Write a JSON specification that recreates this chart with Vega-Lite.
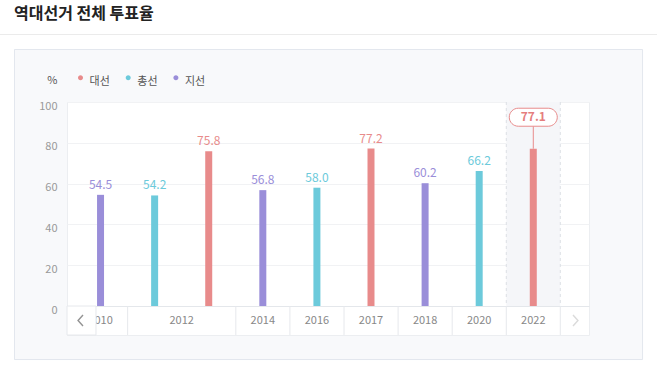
{
  "$schema": "https://vega.github.io/schema/vega-lite/v6.json",
  "autosize": "none",
  "width": 522,
  "height": 233,
  "padding": {"left": 67, "top": 102, "right": 68, "bottom": 35},
  "background": "#f8f9fb",
  "title": {
    "text": "역대선거 전체 투표율",
    "anchor": "start",
    "frame": "group",
    "orient": "top",
    "fontSize": 16,
    "fontWeight": "bold",
    "color": "#222222",
    "offset": 0,
    "dx": -53,
    "dy": 32
  },
  "config": {
    "font": "Noto Sans CJK KR",
    "view": {"fill": "#ffffff", "stroke": "#eceef1"}
  },
  "data": {
    "values": [
      {"idx": 0, "year": "2010", "type": "지선", "value": 54.5},
      {"idx": 1, "year": "2012", "type": "총선", "value": 54.2},
      {"idx": 2, "year": "2012", "type": "대선", "value": 75.8},
      {"idx": 3, "year": "2014", "type": "지선", "value": 56.8},
      {"idx": 4, "year": "2016", "type": "총선", "value": 58.0},
      {"idx": 5, "year": "2017", "type": "대선", "value": 77.2},
      {"idx": 6, "year": "2018", "type": "지선", "value": 60.2},
      {"idx": 7, "year": "2020", "type": "총선", "value": 66.2},
      {"idx": 8, "year": "2022", "type": "대선", "value": 77.1}
    ]
  },
  "layer": [
    {
      "data": {"values": [{}]},
      "mark": {"type": "rect", "fill": "#ffffff"},
      "encoding": {
        "x": {"datum": -2, "type": "quantitative", "scale": {"domain": [-0.62, 9.03], "nice": false, "zero": false, "padding": 0}, "axis": null},
        "x2": {"datum": 10.5},
        "y": {
          "datum": 155,
          "type": "quantitative",
          "scale": {"domain": [-14.2, 100], "nice": false, "zero": false},
          "axis": {
            "values": [0, 20, 40, 60, 80, 100],
            "grid": true,
            "gridColor": {"condition": {"test": "datum.value === 0", "value": "#e4e7eb"}, "value": "#f1f2f4"},
            "domain": false,
            "ticks": false,
            "labelColor": "#999999",
            "labelFontSize": 11,
            "labelPadding": 10,
            "labelOffset": 4,
            "title": "%",
            "titleAngle": 0,
            "titleX": -10,
            "titleY": -22,
            "titleAlign": "right",
            "titleBaseline": "middle",
            "titleFontWeight": "normal",
            "titleFontSize": 11,
            "titleColor": "#555555"
          }
        },
        "y2": {"datum": 125.98}
      }
    },
    {
      "data": {"values": [{}]},
      "mark": {"type": "rect", "fill": "#ffffff"},
      "encoding": {
        "x": {"datum": -2, "type": "quantitative", "scale": {"domain": [-0.62, 9.03], "nice": false, "zero": false, "padding": 0}, "axis": null},
        "x2": {"datum": -1.6},
        "y": {"datum": 155, "type": "quantitative", "scale": {"domain": [-14.2, 100], "nice": false, "zero": false}},
        "y2": {"datum": -40}
      }
    },
    {
      "data": {"values": [{}]},
      "mark": {"type": "rect", "fill": "#ffffff"},
      "encoding": {
        "x": {"datum": 10.029, "type": "quantitative", "scale": {"domain": [-0.62, 9.03], "nice": false, "zero": false, "padding": 0}, "axis": null},
        "x2": {"datum": 10.5},
        "y": {"datum": 155, "type": "quantitative", "scale": {"domain": [-14.2, 100], "nice": false, "zero": false}},
        "y2": {"datum": -40}
      }
    },
    {
      "data": {"values": [{}]},
      "mark": {"type": "rect", "fill": "#ffffff"},
      "encoding": {
        "x": {"datum": -2, "type": "quantitative", "scale": {"domain": [-0.62, 9.03], "nice": false, "zero": false, "padding": 0}, "axis": null},
        "x2": {"datum": 10.5},
        "y": {"datum": -26.47, "type": "quantitative", "scale": {"domain": [-14.2, 100], "nice": false, "zero": false}},
        "y2": {"datum": -40}
      }
    },
    {
      "data": {"values": [{}]},
      "mark": {"type": "rect", "fill": "transparent", "stroke": "#e3e7ee", "strokeWidth": 1},
      "encoding": {
        "x": {"datum": -1.5908, "type": "quantitative", "scale": {"domain": [-0.62, 9.03], "nice": false, "zero": false, "padding": 0}, "axis": null},
        "x2": {"datum": 10.02},
        "y": {"datum": 125.74, "type": "quantitative", "scale": {"domain": [-14.2, 100], "nice": false, "zero": false}},
        "y2": {"datum": -26.23}
      }
    },
    {
      "data": {"values": [{}]},
      "mark": {"type": "rule", "stroke": "#ebebeb", "strokeWidth": 1},
      "encoding": {
        "x": {"datum": -2, "type": "quantitative", "scale": {"domain": [-0.62, 9.03], "nice": false, "zero": false, "padding": 0}, "axis": null},
        "x2": {"datum": 10.5},
        "y": {"datum": 133.09, "type": "quantitative", "scale": {"domain": [-14.2, 100], "nice": false, "zero": false}}
      }
    },
    {
      "transform": [{"filter": "datum.year == '2022'"}],
      "mark": {"type": "bar", "fill": "#f5f6f9", "width": 54},
      "encoding": {
        "x": {"field": "idx", "type": "quantitative", "scale": {"domain": [-0.62, 9.03], "nice": false, "zero": false, "padding": 0}, "axis": null},
        "y": {"datum": 100, "type": "quantitative", "scale": {"domain": [-14.2, 100], "nice": false, "zero": false}},
        "y2": {"datum": 0}
      }
    },
    {
      "transform": [{"filter": "datum.year == '2022'"}],
      "mark": {"type": "rule", "stroke": "#dcdfe5", "strokeDash": [3, 3], "xOffset": -27},
      "encoding": {
        "x": {"field": "idx", "type": "quantitative", "scale": {"domain": [-0.62, 9.03], "nice": false, "zero": false, "padding": 0}, "axis": null},
        "y": {"datum": 100, "type": "quantitative", "scale": {"domain": [-14.2, 100], "nice": false, "zero": false}},
        "y2": {"datum": 0}
      }
    },
    {
      "transform": [{"filter": "datum.year == '2022'"}],
      "mark": {"type": "rule", "stroke": "#dcdfe5", "strokeDash": [3, 3], "xOffset": 27},
      "encoding": {
        "x": {"field": "idx", "type": "quantitative", "scale": {"domain": [-0.62, 9.03], "nice": false, "zero": false, "padding": 0}, "axis": null},
        "y": {"datum": 100, "type": "quantitative", "scale": {"domain": [-14.2, 100], "nice": false, "zero": false}},
        "y2": {"datum": 0}
      }
    },
    {
      "transform": [{"aggregate": [{"op": "min", "field": "idx", "as": "first"}], "groupby": ["year"]}],
      "mark": {"type": "rule", "stroke": "#e6e8ec", "xOffset": -27},
      "encoding": {
        "x": {"field": "first", "type": "quantitative", "scale": {"domain": [-0.62, 9.03], "nice": false, "zero": false, "padding": 0}, "axis": null},
        "y": {"datum": 0, "type": "quantitative", "scale": {"domain": [-14.2, 100], "nice": false, "zero": false}},
        "y2": {"datum": -14.2}
      }
    },
    {
      "transform": [{"filter": "datum.year == '2022'"}],
      "mark": {"type": "rule", "stroke": "#e6e8ec", "xOffset": 27},
      "encoding": {
        "x": {"field": "idx", "type": "quantitative", "scale": {"domain": [-0.62, 9.03], "nice": false, "zero": false, "padding": 0}, "axis": null},
        "y": {"datum": 0, "type": "quantitative", "scale": {"domain": [-14.2, 100], "nice": false, "zero": false}},
        "y2": {"datum": -14.2}
      }
    },
    {
      "transform": [{"aggregate": [{"op": "mean", "field": "idx", "as": "mid"}], "groupby": ["year"]}],
      "mark": {"type": "text", "fontSize": 11, "fill": "#888888", "baseline": "middle", "align": "center"},
      "encoding": {
        "x": {"field": "mid", "type": "quantitative", "scale": {"domain": [-0.62, 9.03], "nice": false, "zero": false, "padding": 0}, "axis": null},
        "y": {"datum": -7.1, "type": "quantitative", "scale": {"domain": [-14.2, 100], "nice": false, "zero": false}},
        "text": {"field": "year", "type": "nominal"}
      }
    },
    {
      "data": {"values": [{}]},
      "mark": {"type": "rect", "fill": "#ffffff", "stroke": "#e6e8ec", "strokeWidth": 1},
      "encoding": {
        "x": {"datum": -0.62, "type": "quantitative", "scale": {"domain": [-0.62, 9.03], "nice": false, "zero": false, "padding": 0}, "axis": null},
        "x2": {"datum": -0.084},
        "y": {"datum": 0, "type": "quantitative", "scale": {"domain": [-14.2, 100], "nice": false, "zero": false}},
        "y2": {"datum": -14.2}
      }
    },
    {
      "data": {"values": [{}]},
      "mark": {"type": "point", "shape": "M0.45,-1L-0.45,0L0.45,1", "filled": false, "stroke": "#666666", "strokeWidth": 1.4, "size": 121},
      "encoding": {
        "x": {"datum": -0.37, "type": "quantitative", "scale": {"domain": [-0.62, 9.03], "nice": false, "zero": false, "padding": 0}, "axis": null},
        "y": {"datum": -7.1, "type": "quantitative", "scale": {"domain": [-14.2, 100], "nice": false, "zero": false}}
      }
    },
    {
      "data": {"values": [{}]},
      "mark": {"type": "point", "shape": "M-0.45,-1L0.45,0L-0.45,1", "filled": false, "stroke": "#cccccc", "strokeWidth": 1.4, "size": 121},
      "encoding": {
        "x": {"datum": 8.78, "type": "quantitative", "scale": {"domain": [-0.62, 9.03], "nice": false, "zero": false, "padding": 0}, "axis": null},
        "y": {"datum": -7.1, "type": "quantitative", "scale": {"domain": [-14.2, 100], "nice": false, "zero": false}}
      }
    },
    {
      "mark": {"type": "bar", "width": 7},
      "encoding": {
        "x": {"field": "idx", "type": "quantitative", "scale": {"domain": [-0.62, 9.03], "nice": false, "zero": false, "padding": 0}, "axis": null},
        "y": {"field": "value", "type": "quantitative", "scale": {"domain": [-14.2, 100], "nice": false, "zero": false}},
        "color": {
          "field": "type",
          "type": "nominal",
          "scale": {"domain": ["대선", "총선", "지선"], "range": ["#e88b8b", "#6ccadb", "#9a8ed9"]},
          "legend": {
            "orient": "none",
            "legendX": 8,
            "legendY": -26,
            "direction": "horizontal",
            "title": null,
            "symbolType": "M0,-1.3A0.5,0.5,0,1,1,0,-0.3A0.5,0.5,0,1,1,0,-1.3Z",
            "symbolSize": 100,
            "symbolStrokeWidth": 0,
            "labelFontSize": 11,
            "labelColor": "#555555",
            "labelOffset": 3.6,
            "columnPadding": 12.7
          }
        }
      }
    },
    {
      "transform": [{"filter": "datum.year != '2022'"}],
      "mark": {"type": "text", "fontSize": 12, "baseline": "alphabetic", "align": "center", "dy": -6},
      "encoding": {
        "x": {"field": "idx", "type": "quantitative", "scale": {"domain": [-0.62, 9.03], "nice": false, "zero": false, "padding": 0}, "axis": null},
        "y": {"field": "value", "type": "quantitative", "scale": {"domain": [-14.2, 100], "nice": false, "zero": false}},
        "text": {"field": "value", "type": "quantitative", "format": ".1f"},
        "color": {"field": "type", "type": "nominal", "scale": {"domain": ["대선", "총선", "지선"], "range": ["#e88b8b", "#6ccadb", "#9a8ed9"]}, "legend": null}
      }
    },
    {
      "transform": [{"filter": "datum.year == '2022'"}],
      "mark": {"type": "rule", "stroke": "#e88b8b", "strokeWidth": 1, "y2Offset": -22.5},
      "encoding": {
        "x": {"field": "idx", "type": "quantitative", "scale": {"domain": [-0.62, 9.03], "nice": false, "zero": false, "padding": 0}, "axis": null},
        "y": {"field": "value", "type": "quantitative", "scale": {"domain": [-14.2, 100], "nice": false, "zero": false}},
        "y2": {"field": "value"}
      }
    },
    {
      "transform": [{"filter": "datum.year == '2022'"}],
      "mark": {"type": "bar", "width": 48, "fill": "#ffffff", "stroke": "#e88b8b", "strokeWidth": 1, "cornerRadius": 9, "yOffset": -40.5, "y2Offset": -22.5},
      "encoding": {
        "x": {"field": "idx", "type": "quantitative", "scale": {"domain": [-0.62, 9.03], "nice": false, "zero": false, "padding": 0}, "axis": null},
        "y": {"field": "value", "type": "quantitative", "scale": {"domain": [-14.2, 100], "nice": false, "zero": false}},
        "y2": {"field": "value"}
      }
    },
    {
      "transform": [{"filter": "datum.year == '2022'"}],
      "mark": {"type": "text", "fontSize": 12, "fontWeight": "bold", "fill": "#e57d7d", "baseline": "middle", "align": "center", "yOffset": -31.3},
      "encoding": {
        "x": {"field": "idx", "type": "quantitative", "scale": {"domain": [-0.62, 9.03], "nice": false, "zero": false, "padding": 0}, "axis": null},
        "y": {"field": "value", "type": "quantitative", "scale": {"domain": [-14.2, 100], "nice": false, "zero": false}},
        "text": {"field": "value", "type": "quantitative", "format": ".1f"}
      }
    }
  ]
}
